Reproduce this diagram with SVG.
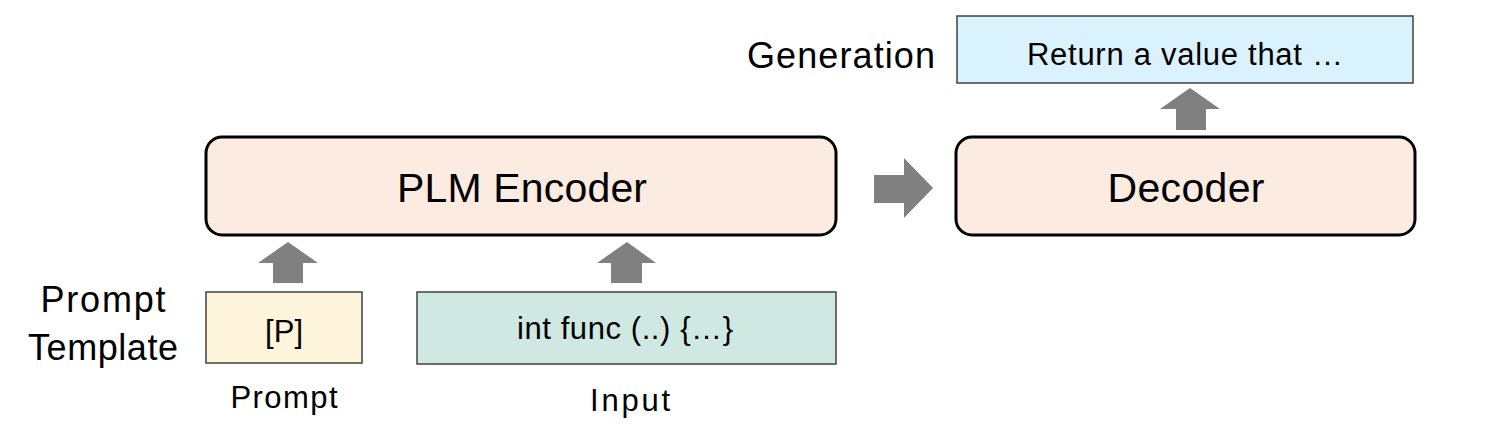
<svg xmlns="http://www.w3.org/2000/svg" width="1494" height="434" viewBox="0 0 1494 434">
<style>
text{font-family:"Liberation Sans",Arial,sans-serif;fill:#000}
.big{stroke:#000;stroke-width:3;fill:#FBEBE0}
.thin{stroke:#404040;stroke-width:1.5}
.arr{fill:#808080}
</style>
<rect width="1494" height="434" fill="#fff"/>
<g id="generation">
<rect class="thin" x="957" y="16" width="456" height="67" fill="#DAF2FD"/>
<text x="1185" y="65" font-size="31" text-anchor="middle" textLength="316">Return a value that …</text>
</g>
<text id="generation-label" x="747" y="68" font-size="36" textLength="188">Generation</text>
<g id="encoder">
<rect class="big" x="206" y="137" width="630" height="98" rx="16"/>
<text x="522" y="202" font-size="41" text-anchor="middle" textLength="250">PLM Encoder</text>
</g>
<g id="decoder">
<rect class="big" x="956" y="137" width="459" height="98" rx="16"/>
<text x="1186" y="202" font-size="41" text-anchor="middle" textLength="157">Decoder</text>
</g>
<g id="prompt">
<rect class="thin" x="206" y="292" width="156" height="71" fill="#FFF4DC"/>
<text x="284" y="342" font-size="31" text-anchor="middle" textLength="38">[P]</text>
</g>
<g id="input">
<rect class="thin" x="417" y="292" width="419" height="72" fill="#D0E8E2"/>
<text x="625" y="339" font-size="31" text-anchor="middle" textLength="216">int func (..) {…}</text>
</g>
<text id="prompt-template" x="103" font-size="36" text-anchor="middle"><tspan x="103" y="312" textLength="125">Prompt</tspan><tspan x="103" y="360" textLength="150">Template</tspan></text>
<text id="prompt-label" x="284" y="408" font-size="31" text-anchor="middle" textLength="107">Prompt</text>
<text id="input-label" x="630" y="411" font-size="31" text-anchor="middle" textLength="80">Input</text>
<g id="connectors">
<polygon class="arr" points="273,283 303,283 303,263 318,263 288,242 258,263 273,263"/>
<polygon class="arr" points="611,283 642,283 642,263 656,263 627,242 597,263 611,263"/>
<polygon class="arr" points="1176,130 1206,130 1206,109 1220,109 1190,88 1160,109 1176,109"/>
<polygon class="arr" points="874,175 904,175 904,158 933,188 904,218 904,203 874,203"/>
</g>
</svg>
